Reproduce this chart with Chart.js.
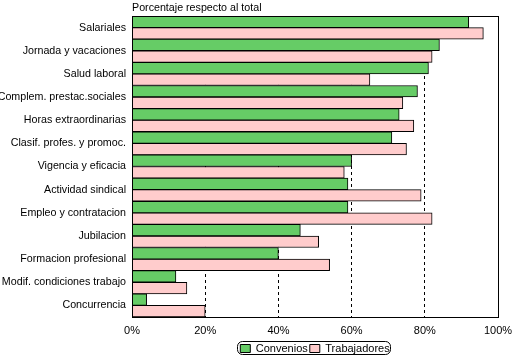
<!DOCTYPE html>
<html>
<head>
<meta charset="utf-8">
<script src="https://cdn.jsdelivr.net/npm/chart.js@4.4.0/dist/chart.umd.min.js"></script>
<style>
html,body{margin:0;padding:0;background:#fff;}
#wrap{width:512px;height:358px;}
</style>
</head>
<body>
<div id="wrap"><canvas id="c" width="512" height="358"></canvas></div>
<script>
const categories = ["Salariales","Jornada y vacaciones","Salud laboral","Complem. prestac.sociales","Horas extraordinarias","Clasif. profes. y promoc.","Vigencia y eficacia","Actividad sindical","Empleo y contratacion","Jubilacion","Formacion profesional","Modif. condiciones trabajo","Concurrencia"];
const convenios = [92,84,81,78,73,71,60,59,59,46,40,12,4];
const trabajadores = [96,82,65,74,77,75,58,79,82,51,54,15,20];
const xTicks = [0,20,40,60,80,100];
const titleText = "Porcentaje respecto al total";

const FONT = "'Liberation Sans', Arial, sans-serif";

const framePlugin = {
  id: 'frame',
  afterDatasetsDraw(chart) {
    const {ctx, chartArea: a} = chart;
    ctx.save();
    ctx.strokeStyle = '#000';
    ctx.lineWidth = 1;
    ctx.strokeRect(Math.round(a.left)+0.5, Math.round(a.top)+0.5, Math.round(a.right-a.left), Math.round(a.bottom-a.top));
    ctx.fillStyle = '#000';
    ctx.font = "10.7px " + FONT;
    ctx.textBaseline = 'bottom';
    ctx.textAlign = 'left';
    ctx.fillText(titleText, a.left, a.top - 3);
    ctx.restore();
  },
  afterDraw(chart) {
    const lg = chart.legend;
    if (!lg || !lg.legendHitBoxes) return;
    const ctx = chart.ctx;
    let minX = Infinity, maxX = -Infinity, minY = Infinity, maxY = -Infinity;
    lg.legendHitBoxes.forEach(b => {
      minX = Math.min(minX, b.left); maxX = Math.max(maxX, b.left + b.width);
      minY = Math.min(minY, b.top); maxY = Math.max(maxY, b.top + b.height);
    });
    ctx.save();
    ctx.strokeStyle = '#000';
    ctx.lineWidth = 1;
    const x = Math.round(minX) - 2.5, y = Math.round(minY) - 1.5, w = Math.round(maxX - minX) + 4, h = Math.round(maxY - minY) + 2;
    const r = 5;
    ctx.beginPath();
    ctx.moveTo(x + r, y);
    ctx.arcTo(x + w, y, x + w, y + h, r);
    ctx.arcTo(x + w, y + h, x, y + h, r);
    ctx.arcTo(x, y + h, x, y, r);
    ctx.arcTo(x, y, x + w, y, r);
    ctx.closePath();
    ctx.stroke();
    ctx.restore();
  }
};

new Chart(document.getElementById('c'), {
  type: 'bar',
  data: {
    labels: categories,
    datasets: [
      {label: 'Convenios', data: convenios, backgroundColor: '#66cc66', borderColor: '#000', borderWidth: 1, borderSkipped: 'left'},
      {label: 'Trabajadores', data: trabajadores, backgroundColor: '#ffcccc', borderColor: '#000', borderWidth: 1, borderSkipped: 'left'}
    ]
  },
  plugins: [framePlugin],
  options: {
    indexAxis: 'y',
    responsive: false,
    animation: false,
    devicePixelRatio: 1,
    layout: {padding: {top: 16, right: 0, left: 0, bottom: -6}},
    datasets: {bar: {categoryPercentage: 1.0, barPercentage: 1.0}},
    plugins: {
      legend: {
        position: 'bottom',
        fullSize: false,
        labels: {
          font: {family: FONT, size: 11},
          color: '#000',
          boxWidth: 10,
          boxHeight: 8,
          padding: 2,
          generateLabels(chart) {
            return chart.data.datasets.map((d, i) => ({
              text: d.label, fillStyle: d.backgroundColor, strokeStyle: '#000', lineWidth: 1, datasetIndex: i, fontColor: '#000'
            }));
          }
        }
      },
      tooltip: {enabled: false},
      title: {display: false}
    },
    scales: {
      x: {
        min: 0, max: 100,
        afterBuildTicks(scale) { scale.ticks = xTicks.map(v => ({value: v})); },
        afterFit(scale) { scale.height = 24; scale.paddingRight = 14; scale.paddingLeft = 0; },
        ticks: {
          callback: v => v + '%',
          font: {family: FONT, size: 11},
          color: '#000',
          padding: 7
        },
        grid: {
          drawTicks: false,
          color: ctx => (ctx.tick && (ctx.tick.value === 0 || ctx.tick.value === 100)) ? 'rgba(0,0,0,0)' : '#000',
          lineWidth: 1
        },
        border: {display: false, dash: [3, 3]}
      },
      y: {
        afterFit(scale) { scale.width = 132; },
        ticks: {
          font: {family: FONT, size: 10.7},
          color: '#000',
          padding: 6
        },
        grid: {display: false, drawTicks: false},
        border: {display: false}
      }
    }
  }
});
</script>
</body>
</html>
